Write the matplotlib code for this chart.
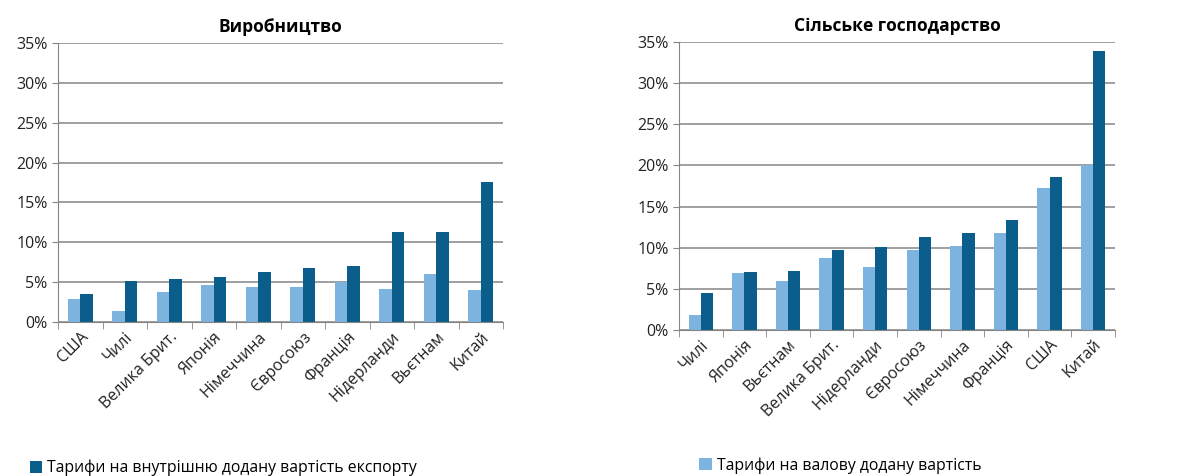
import numpy as np
import matplotlib.pyplot as plt
from matplotlib.ticker import PercentFormatter, FixedLocator

plt.rcParams['font.family'] = ['Open Sans', 'DejaVu Sans']

# Виробництво
man_countries = ['США', 'Чилі', 'Велика Брит.', 'Японія', 'Німеччина',
                 'Євросоюз', 'Франція', 'Нідерланди', 'Вьєтнам', 'Китай']
man_gross = [2.85, 1.4, 3.75, 4.7, 4.45, 4.45, 5.0, 4.15, 6.05, 4.05]
man_domestic = [3.55, 5.1, 5.45, 5.65, 6.3, 6.8, 7.05, 11.35, 11.35, 17.5]

# Сільське господарство
agr_countries = ['Чилі', 'Японія', 'Вьєтнам', 'Велика Брит.', 'Нідерланди',
                 'Євросоюз', 'Німеччина', 'Франція', 'США', 'Китай']
agr_gross = [1.8, 6.9, 6.0, 8.8, 7.7, 9.7, 10.25, 11.8, 17.25, 20.0]
agr_domestic = [4.55, 7.1, 7.2, 9.7, 10.1, 11.35, 11.75, 13.4, 18.55, 33.85]

light = '#7db3df'
dark = '#0b5e8b'

fig = plt.figure(figsize=(11.98, 4.76), dpi=100)
ax1 = fig.add_axes([0.0484, 0.3235, 0.3716, 0.5862])
ax2 = fig.add_axes([0.5668, 0.3067, 0.3639, 0.605])


def draw(ax, countries, gross, domestic, title):
    x = np.arange(len(countries))
    w = 0.28
    b1 = ax.bar(x - w / 2, gross, w, color=light, label='Тарифи на валову додану вартість')
    b2 = ax.bar(x + w / 2, domestic, w, color=dark, label='Тарифи на внутрішню додану вартість експорту')
    ax.set_xlim(-0.5, len(countries) - 0.5)
    ax.set_ylim(0, 35)
    ax.set_yticks(np.arange(0, 36, 5))
    ax.yaxis.set_major_formatter(PercentFormatter(decimals=0))
    ax.yaxis.grid(True, color='#858585', linewidth=1.1)
    ax.set_axisbelow(True)
    for s in ['top', 'right']:
        ax.spines[s].set_visible(False)
    for s in ['left', 'bottom']:
        ax.spines[s].set_color('#858585')
    ax.set_xticks(x)
    ax.set_xticklabels(countries, rotation=45, ha='right', rotation_mode='anchor',
                       fontsize=11.5, color='#222222')
    ax.tick_params(axis='x', which='major', length=0, pad=5)
    ax.xaxis.set_minor_locator(FixedLocator(np.arange(-0.5, len(countries), 1)))
    ax.tick_params(axis='x', which='minor', length=5, color='#858585')
    ax.tick_params(axis='y', length=4, color='#858585', labelsize=11.5, labelcolor='#222222')
    ax.set_title(title, fontsize=12.5, fontweight='bold', pad=8)
    return b1, b2


b1, b2 = draw(ax1, man_countries, man_gross, man_domestic, 'Виробництво')
draw(ax2, agr_countries, agr_gross, agr_domestic, 'Сільське господарство')

fig.legend(handles=[b2], loc='lower left', bbox_to_anchor=(0.013, -0.03), frameon=False,
           fontsize=11.3, handlelength=0.8, handleheight=0.8, handletextpad=0.3)
fig.legend(handles=[b1], loc='lower left', bbox_to_anchor=(0.572, -0.025), frameon=False,
           fontsize=11.3, handlelength=0.8, handleheight=0.8, handletextpad=0.3)

fig.savefig('out.png', dpi=100, facecolor='white')
